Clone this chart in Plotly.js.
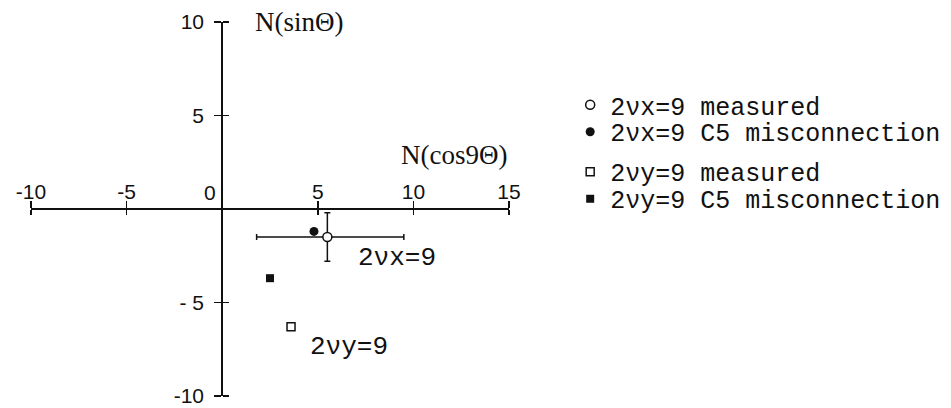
<!DOCTYPE html>
<html>
<head>
<meta charset="utf-8">
<script src="https://cdn.plot.ly/plotly-3.0.1.min.js"></script>
<style>
  body { margin: 0; background: #fff; }
  #chart { width: 951px; height: 408px; }
</style>
</head>
<body>
<div id="chart"></div>
<script>
// legend names
const seriesNames = [
  '2νx=9 measured',
  '2νx=9 C5 misconnection',
  '2νy=9 measured',
  '2νy=9 C5 misconnection'
];

// 2νx=9 measured, with error bars
const measXx = [5.5];
const measXy = [-1.5];
const measXerrPlus = [4.0];
const measXerrMinus = [3.7];
const measYerrPlus = [1.3];
const measYerrMinus = [1.3];

// 2νx=9 C5 misconnection
const misXx = [4.8];
const misXy = [-1.2];

// 2νy=9 measured
const measYx = [3.6];
const measYy = [-6.3];

// 2νy=9 C5 misconnection
const misYx = [2.5];
const misYy = [-3.7];

// axis ticks
const xTicks = [-10, -5, 5, 10, 15];
const xTickText = ['-10', '-5', '5', '10', '15'];
const yTicks = [-10, -5, 5, 10];
const yTickText = ['-10', '- 5', '5', '10'];

const xRange = [-10, 15];
const yRange = [-10, 10];

const black = '#111111';
const legendFont = {family: 'Liberation Mono, monospace', size: 25, color: black};
const tickFont = {family: 'Liberation Sans, sans-serif', size: 21, color: black};
const titleFont = {family: 'Liberation Serif, serif', size: 27, color: black};
const noteFont = {family: 'Liberation Mono, monospace', size: 26, color: black};

const traces = [
  {
    x: measXx, y: measXy, type: 'scatter', mode: 'markers',
    name: seriesNames[0], legend: 'legend',
    marker: {symbol: 'circle', size: 9, color: '#ffffff', line: {color: black, width: 1.5}},
    error_x: {type: 'data', symmetric: false, array: measXerrPlus, arrayminus: measXerrMinus,
              color: black, thickness: 1.5, width: 3},
    error_y: {type: 'data', symmetric: false, array: measYerrPlus, arrayminus: measYerrMinus,
              color: black, thickness: 1.5, width: 3}
  },
  {
    x: misXx, y: misXy, type: 'scatter', mode: 'markers',
    name: seriesNames[1], legend: 'legend2',
    marker: {symbol: 'circle', size: 9, color: black}
  },
  {
    x: measYx, y: measYy, type: 'scatter', mode: 'markers',
    name: seriesNames[2], legend: 'legend3',
    marker: {symbol: 'square', size: 8, color: '#ffffff', line: {color: black, width: 1.5}}
  },
  {
    x: misYx, y: misYy, type: 'scatter', mode: 'markers',
    name: seriesNames[3], legend: 'legend4',
    marker: {symbol: 'square', size: 8, color: black}
  },
  // empty trace so the second set of ticks (other side of the axes) is drawn
  {x: [], y: [], xaxis: 'x2', yaxis: 'y2', type: 'scatter', mode: 'markers',
   showlegend: false, hoverinfo: 'skip'}
];

// one legend per row so rows can sit where the original has them
function legendAt(y) {
  return {
    x: 1.128, xanchor: 'left', y: y, yanchor: 'middle',
    font: legendFont, bgcolor: 'rgba(0,0,0,0)', itemsizing: 'trace'
  };
}

const layout = {
  width: 951,
  height: 408,
  margin: {l: 31, r: 442, t: 22, b: 12, autoexpand: false},
  paper_bgcolor: '#ffffff',
  plot_bgcolor: '#ffffff',
  showlegend: true,
  xaxis: {
    range: xRange, anchor: 'free', position: 0.5, side: 'top',
    showline: true, linecolor: black, linewidth: 2,
    showgrid: false, zeroline: false,
    tickvals: xTicks, ticktext: xTickText,
    ticks: 'outside', ticklen: 7, tickwidth: 1.5, tickcolor: black,
    tickfont: tickFont, ticklabelstandoff: -6, ticklabeloverflow: 'allow'
  },
  yaxis: {
    range: yRange, anchor: 'free', position: 0.4, side: 'left',
    showline: true, linecolor: black, linewidth: 2,
    showgrid: false, zeroline: false,
    tickvals: yTicks, ticktext: yTickText,
    ticks: 'outside', ticklen: 7, tickwidth: 1.5, tickcolor: black,
    tickfont: tickFont, ticklabelstandoff: 6, ticklabeloverflow: 'allow'
  },
  xaxis2: {
    range: xRange, overlaying: 'x', anchor: 'free', position: 0.5, side: 'bottom',
    showline: false, showgrid: false, zeroline: false, showticklabels: false,
    tickvals: xTicks, ticks: 'outside', ticklen: 5, tickwidth: 1.5, tickcolor: black
  },
  yaxis2: {
    range: yRange, overlaying: 'y', anchor: 'free', position: 0.4, side: 'right',
    showline: false, showgrid: false, zeroline: false, showticklabels: false,
    tickvals: yTicks, ticks: 'outside', ticklen: 6, tickwidth: 1.5, tickcolor: black
  },
  legend: legendAt(0.778),
  legend2: legendAt(0.706),
  legend3: legendAt(0.599),
  legend4: legendAt(0.527),
  annotations: [
    {x: 1.6, y: 10, xref: 'x', yref: 'y', text: 'N(sinΘ)', showarrow: false,
     xanchor: 'left', yanchor: 'middle', font: titleFont},
    {x: 15, y: 2.9, xref: 'x', yref: 'y', text: 'N(cos9Θ)', showarrow: false,
     xanchor: 'right', yanchor: 'middle', font: titleFont},
    {x: 0, y: 0, xref: 'x', yref: 'y', text: '0', showarrow: false,
     xanchor: 'right', yanchor: 'bottom', xshift: -4, yshift: 3, font: tickFont},
    {x: 7.0, y: -2.6, xref: 'x', yref: 'y', text: '2νx=9', showarrow: false,
     xanchor: 'left', yanchor: 'middle', font: noteFont},
    {x: 4.5, y: -7.4, xref: 'x', yref: 'y', text: '2νy=9', showarrow: false,
     xanchor: 'left', yanchor: 'middle', font: noteFont}
  ]
};

Plotly.newPlot('chart', traces, layout, {displayModeBar: false, staticPlot: true});
</script>
</body>
</html>
